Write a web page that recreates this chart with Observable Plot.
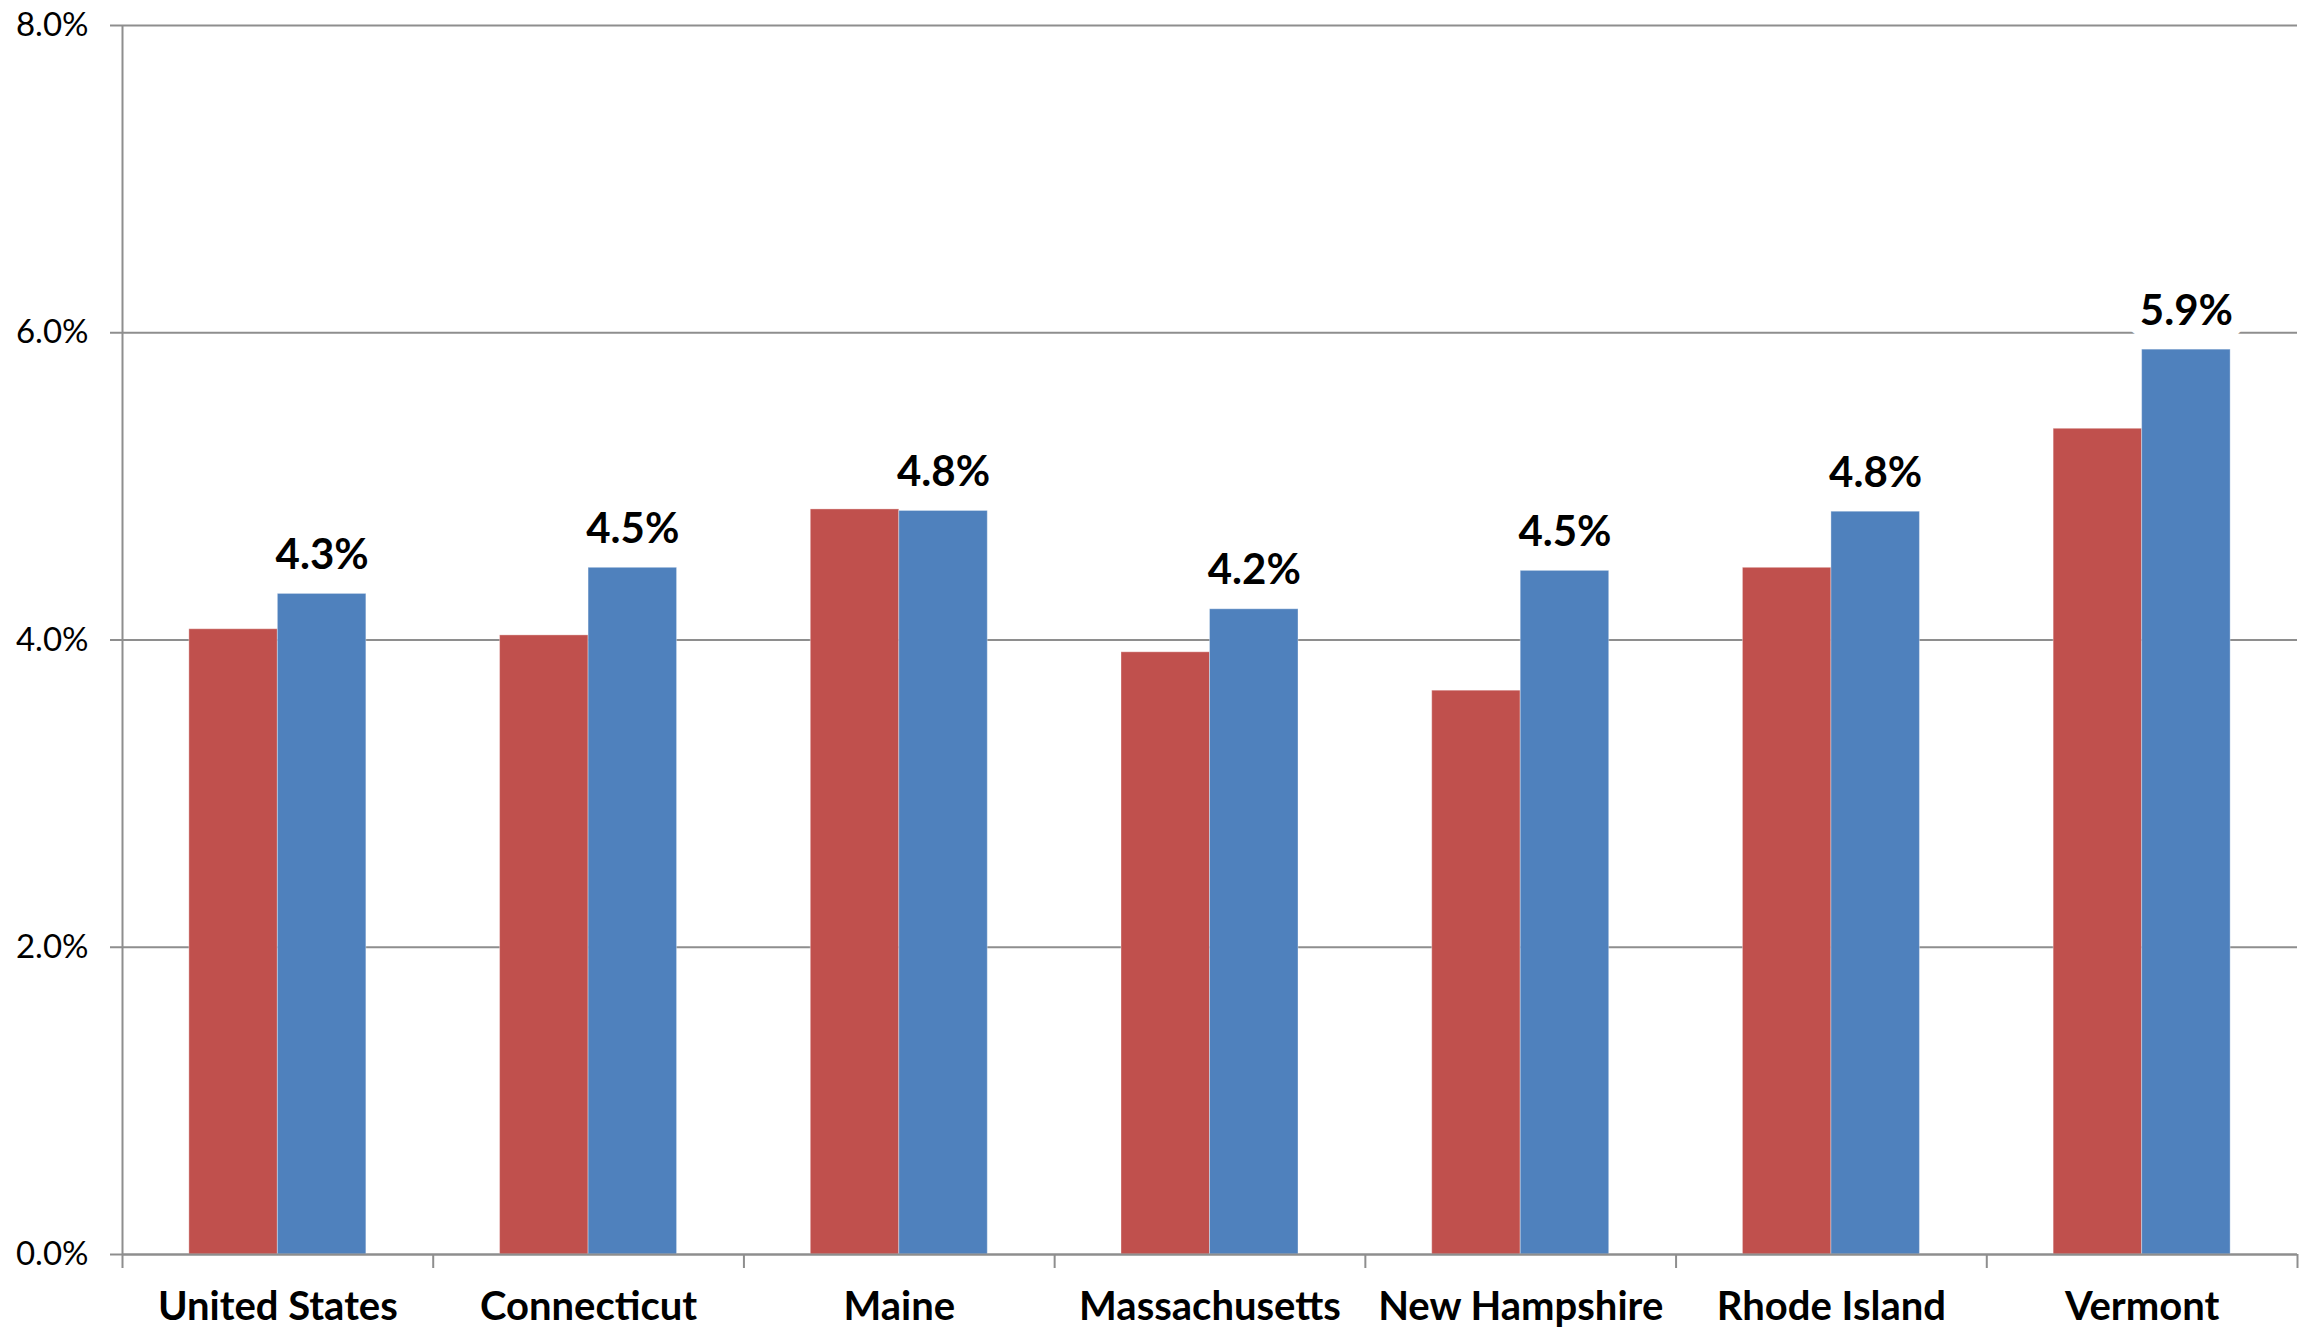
<!DOCTYPE html>
<html>
<head>
<meta charset="utf-8">
<script src="https://cdn.jsdelivr.net/npm/d3@7"></script>
<script src="https://cdn.jsdelivr.net/npm/@observablehq/plot@0.6"></script>
<style>
  html, body { margin: 0; padding: 0; background: #fff; overflow: hidden; }
  #chart { width: 2308px; height: 1329px; }
  #chart svg { display: block; }
</style>
</head>
<body>
<div id="chart"></div>
<script>
// ---- data ----
const states = ["United States", "Connecticut", "Maine", "Massachusetts", "New Hampshire", "Rhode Island", "Vermont"];
const series1Values = [0.0407, 0.0403, 0.0485, 0.0392, 0.0367, 0.0447, 0.05375];   // red bars
const series2Values = [0.0430, 0.0447, 0.0484, 0.0420, 0.0445, 0.04835, 0.0589];   // blue bars
const series2Labels = ["4.3%", "4.5%", "4.8%", "4.2%", "4.5%", "4.8%", "5.9%"];
const yTicks = [0, 0.02, 0.04, 0.06, 0.08];

// ---- layout / style ----
const W = 2308, H = 1329;
const mL = 122, mR = 11, mT = 25, mB = 75;
const bw = (W - mL - mR) / states.length;   // band width
const barW = 88.5;
const RED = "#C0504D", BLUE = "#4F81BD", GRID = "#8E8E8E";
const tickLen = 0.08 * 14 / (H - mT - mB);   // 14px expressed in y units

const red = states.map((s, i) => ({state: s, value: series1Values[i]}));
const blue = states.map((s, i) => ({state: s, value: series2Values[i], label: series2Labels[i]}));

const chart = Plot.plot({
  width: W,
  height: H,
  marginLeft: mL,
  marginRight: mR,
  marginTop: mT,
  marginBottom: mB,
  style: {fontFamily: "Lato, 'Open Sans', sans-serif", color: "#000", background: "#fff", overflow: "visible"},
  x: {domain: states, padding: 0, round: false},
  y: {domain: [0, 0.08]},
  marks: [
    Plot.gridY(yTicks, {stroke: GRID, strokeOpacity: 1, strokeWidth: 2}),
    Plot.axisY(yTicks, {tickSize: 12, tickPadding: 22, tickFormat: d3.format(".1%"), fontSize: 33, stroke: GRID, strokeWidth: 2, label: null}),
    Plot.barY(red, {x: "state", y: "value", fill: RED, insetLeft: bw / 2 - barW, insetRight: bw / 2, stroke: "#fff", strokeOpacity: 0.35, strokeWidth: 1}),
    Plot.barY(blue, {x: "state", y: "value", fill: BLUE, insetLeft: bw / 2, insetRight: bw / 2 - barW, stroke: "#fff", strokeOpacity: 0.35, strokeWidth: 1}),
    Plot.ruleY([0], {stroke: GRID, strokeWidth: 2}),
    Plot.ruleX([states[0]], {x: d => d, dx: -bw / 2, y1: -tickLen, y2: 0.08, stroke: GRID, strokeWidth: 2}),
    Plot.ruleX(states.slice(1), {x: d => d, dx: -bw / 2, y1: -tickLen, y2: 0, stroke: GRID, strokeWidth: 2}),
    Plot.ruleX([states[states.length - 1]], {x: d => d, dx: bw / 2, y1: -tickLen, y2: 0, stroke: GRID, strokeWidth: 2}),
    Plot.axisX({tickSize: 0, tickPadding: 37, fontSize: 40, fontWeight: "bold", label: null}),
    Plot.text(blue, {x: "state", y: "value", text: "label", dx: barW / 2, dy: -25, lineAnchor: "bottom",
      fontSize: 42, fontWeight: "bold", fill: "#000", stroke: "#fff", strokeWidth: 28, strokeLinejoin: "round"})
  ]
});
document.getElementById("chart").appendChild(chart);
</script>
</body>
</html>
